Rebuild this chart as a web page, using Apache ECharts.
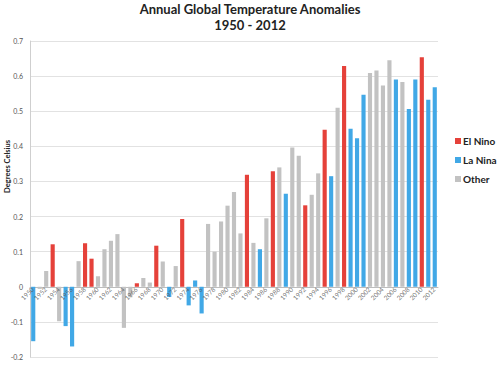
<!DOCTYPE html>
<html>
<head>
<meta charset="utf-8">
<script src="https://cdn.jsdelivr.net/npm/echarts@6/dist/echarts.min.js"></script>
<style>html,body{margin:0;padding:0;background:#fff;}#c{width:500px;height:369px;}</style>
</head>
<body>
<div id="c"></div>
<script>
var years = [];
for (var y = 1950; y <= 2012; y++) years.push(String(y));

var anomalies = [
  -0.155, -0.006, 0.045, 0.121, -0.098, -0.112, -0.170, 0.073, 0.124, 0.080,
   0.030,  0.107, 0.131, 0.150, -0.117, -0.030, 0.010, 0.025, 0.012, 0.117,
   0.072, -0.029, 0.059, 0.193, -0.053, 0.018, -0.076, 0.179, 0.100, 0.186,
   0.231,  0.270, 0.152, 0.319, 0.125, 0.107, 0.195, 0.329, 0.340, 0.265,
   0.397,  0.373, 0.232, 0.262, 0.323, 0.447, 0.315, 0.510, 0.629, 0.450,
   0.423,  0.547, 0.609, 0.616, 0.573, 0.645, 0.590, 0.583, 0.506, 0.590,
   0.654,  0.533, 0.568
];

// E = El Nino, L = La Nina, O = Other
var phase = [
  'L','O','O','E','O','L','L','O','E','E',
  'O','O','O','O','O','O','E','O','O','E',
  'O','L','O','E','L','L','L','O','O','O',
  'O','O','O','E','O','L','O','E','O','L',
  'O','O','E','O','O','E','L','O','E','L',
  'L','L','O','O','O','O','L','O','L','L',
  'E','L','L'
];

var groups = [
  {key:'E', name:'El Nino', color:'#e5413a'},
  {key:'L', name:'La Nina', color:'#41a8e6'},
  {key:'O', name:'Other',   color:'#c2c2c2'}
];

var yTicks = [-0.2, -0.1, 0, 0.1, 0.2, 0.3, 0.4, 0.5, 0.6, 0.7];

// year tick labels shown on the zero line (every other year)
var tickYears = years.filter(function(v, i){ return i % 2 === 0; });

var yMin = yTicks[0], yMax = yTicks[yTicks.length - 1];

var series = groups.map(function(g){
  return {
    name: g.name,
    type: 'bar',
    stack: 'all',
    z: 1,
    barCategoryGap: '36%',
    itemStyle: {color: g.color},
    data: anomalies.map(function(v, i){ return phase[i] === g.key ? v : '-'; })
  };
});

series.push({
  name: 'yearLabels',
  type: 'scatter',
  silent: true,
  clip: false,
  z: 30,
  symbol: 'rect',
  symbolSize: 1,
  itemStyle: {color: 'rgba(255,255,255,0)'},
  labelLayout: {hideOverlap: false},
  label: {
    show: true,
    position: [0, 2],
    align: 'right',
    verticalAlign: 'middle',
    rotate: 45,
    fontSize: 6.5,
    color: '#555',
    fontFamily: 'Lato',
    formatter: function(p){ return p.value[0]; }
  },
  data: tickYears.map(function(yr){ return [yr, 0]; })
});

var chart = echarts.init(document.getElementById('c'), null, {renderer:'svg'});
chart.setOption({
  animation: false,
  textStyle: {fontFamily: 'Lato'},
  title: {
    text: 'Annual Global Temperature Anomalies\n1950 - 2012',
    left: 'center',
    top: -4,
    textStyle: {fontFamily: 'Lato', fontSize: 13, fontWeight: 'bold', color: '#222', lineHeight: 16}
  },
  legend: {
    orient: 'vertical',
    left: 450,
    top: 131,
    itemWidth: 6,
    itemHeight: 6,
    itemGap: 9,
    icon: 'rect',
    textStyle: {fontFamily: 'Lato', fontSize: 10, fontWeight: 'bold', color: '#222', padding: [0,0,0,-3]},
    data: groups.map(function(g){ return g.name; })
  },
  grid: {left: 30, right: 62, top: 41, bottom: 12, containLabel: false},
  xAxis: {
    type: 'category',
    data: years,
    axisLine: {onZero: true, lineStyle: {color: '#bdbdbd'}},
    axisTick: {show: false},
    axisLabel: {show: false}
  },
  yAxis: {
    type: 'value',
    min: yMin,
    max: yMax,
    interval: 0.1,
    axisLine: {show: true, lineStyle: {color: '#cfcfcf'}},
    axisTick: {show: false},
    splitLine: {lineStyle: {color: '#e2e2e2'}},
    axisLabel: {
      fontSize: 7, color: '#555', margin: 7, fontFamily: 'Lato',
      formatter: function(v){ var r = Math.round(v*10)/10; return r === 0 ? '0' : String(r); }
    }
  },
  graphic: [{
    type: 'text',
    left: 3,
    top: 140,
    rotation: Math.PI/2,
    style: {text: 'Degrees Celsius', fontFamily: 'Lato', fontSize: 7.5, fontWeight: 'bold', fill: '#222'}
  }],
  series: series
});
</script>
</body>
</html>
